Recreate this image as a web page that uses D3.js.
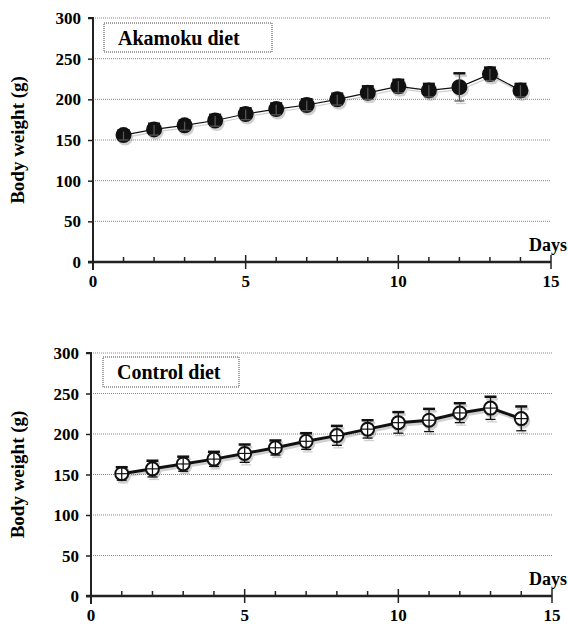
<!DOCTYPE html>
<html><head><meta charset="utf-8">
<script src="https://cdn.jsdelivr.net/npm/d3@7"></script>
<style>body{margin:0;background:#fff;}</style>
</head>
<body><svg id="c" width="568" height="624"></svg>
<script>
const days = [1,2,3,4,5,6,7,8,9,10,11,12,13,14];
const akamokuMean = [156,163,168,174,182,188,193,200,208,216,211,215,231,211];
const akamokuSD   = [6,7,6,7,7,7,7,7,8,8,8,17,8,8];
const controlMean = [151,157,163,169,176,183,191,198,206,214,217,226,232,219];
const controlSD   = [8,10,9,9,11,9,10,12,11,13,14,12,14,15];
const yTicks = [0,50,100,150,200,250,300];
const xMajor = [0,5,10,15];
const xMinor = d3.range(0,16);
const FONT = '"Liberation Serif"';

const svg = d3.select("#c");
const layers = [];

function addText(x,y,str,size,anchor,rotate){
  layers.push({x,y,str,size,anchor,rotate});
}

function drawSeries(parent,cfg,x,y,data,col,fillCol,ebc){
  parent.append("path").datum(data).attr("fill","none").attr("stroke",col).attr("stroke-width",cfg.lw)
    .attr("d",d3.line().x(p=>x(p.d)).y(p=>y(p.m)));
  const pt = parent.selectAll(".pt").data(data).join("g");
  pt.append("circle").attr("cx",p=>x(p.d)).attr("cy",p=>y(p.m)).attr("r",cfg.r)
    .attr("fill",fillCol).attr("stroke",col).attr("stroke-width",2);
  if(cfg.cross){
    pt.append("line").attr("x1",p=>x(p.d)-cfg.r).attr("x2",p=>x(p.d)+cfg.r).attr("y1",p=>y(p.m)).attr("y2",p=>y(p.m)).attr("stroke",col).attr("stroke-width",1.2);
  }
  pt.append("line").attr("x1",p=>x(p.d)).attr("x2",p=>x(p.d)).attr("y1",p=>y(p.m-p.s)).attr("y2",p=>y(p.m+p.s)).attr("stroke",ebc).attr("stroke-width",1.3);
  pt.append("line").attr("x1",p=>x(p.d)-6).attr("x2",p=>x(p.d)+6).attr("y1",p=>y(p.m+p.s)).attr("y2",p=>y(p.m+p.s)).attr("stroke",col).attr("stroke-width",2.5);
  pt.append("line").attr("x1",p=>x(p.d)-5).attr("x2",p=>x(p.d)+5).attr("y1",p=>y(p.m-p.s)).attr("y2",p=>y(p.m-p.s)).attr("stroke",ebc).attr("stroke-width",1.3);
}

function panel(cfg){
  const x = d3.scaleLinear().domain([0,15]).range(cfg.xr);
  const y = d3.scaleLinear().domain([0,300]).range(cfg.yr);
  const g = svg.append("g");
  g.selectAll(".grid").data(yTicks.filter(d=>d>0)).join("line")
    .attr("x1",x(0)).attr("x2",x(15)).attr("y1",d=>y(d)).attr("y2",d=>y(d))
    .attr("stroke","#888").attr("stroke-width",1).attr("stroke-dasharray","1,1");
  // axes (lines/ticks via d3.axis; labels placed from the same scales in a top-level text layer)
  const ya = d3.axisLeft(y).tickValues(yTicks).tickSize(5).tickFormat("");
  const yg = g.append("g").attr("transform",`translate(${x(0)},0)`).call(ya);
  yg.selectAll("text").remove();
  yg.select(".domain").attr("stroke","#222").attr("stroke-width",2).attr("d",`M-5,${y(300)}H0V${y(0)+8}`);
  yg.selectAll(".tick line").attr("stroke","#222").attr("stroke-width",1.5);
  const xa = d3.axisBottom(x).tickValues(xMajor).tickSize(0).tickFormat("");
  const xg = g.append("g").attr("transform",`translate(0,${y(0)})`).call(xa);
  xg.selectAll("text").remove();
  xg.select(".domain").attr("stroke","#222").attr("stroke-width",2.5).attr("d",`M${x(0)-5},0H${x(15)}`);
  g.selectAll(".minor").data(xMinor).join("line")
    .attr("x1",d=>x(d)).attr("x2",d=>x(d))
    .attr("y1",d=>xMajor.includes(d)? y(0)-7 : y(0)-5).attr("y2",d=>xMajor.includes(d)? y(0)+7 : y(0))
    .attr("stroke","#222").attr("stroke-width",1.5);
  yTicks.forEach(t=>addText(x(0)-12, y(t)+6, String(t), 17, "end"));
  xMajor.forEach(t=>addText(x(t), y(0)+25, String(t), 17, "middle"));
  addText(567, y(0)-11, "Days", 18, "end");
  addText(24, (y(0)+y(300))/2, "Body weight (g)", 19, "middle", true);
  g.append("rect").attr("x",cfg.box[0]).attr("y",cfg.box[1]).attr("width",cfg.box[2]).attr("height",cfg.box[3])
    .attr("fill","#fff").attr("stroke","#444").attr("stroke-width",1).attr("stroke-dasharray","1,1");
  addText(cfg.box[0]+14, cfg.box[1]+22, cfg.label, 20, "start");
  const data = days.map((d,i)=>({d,m:cfg.mean[i],s:cfg.sd[i]}));
  const shadow = g.append("g").attr("transform","translate(1.5,2.5)").attr("opacity",0.3);
  drawSeries(shadow,cfg,x,y,data,"#666","#666","#666");
  const dg = g.append("g");
  drawSeries(dg,cfg,x,y,data,"#111",cfg.fill,cfg.ebc);
}
panel({xr:[93,551],yr:[262,18],mean:akamokuMean,sd:akamokuSD,label:"Akamoku diet",box:[104,23,168,29],lw:1.2,r:7,fill:"#111",cross:false,ebc:"#555"});
panel({xr:[91,552],yr:[596,353],mean:controlMean,sd:controlSD,label:"Control diet",box:[103,357,136,30],lw:3,r:6.5,fill:"#fff",cross:true,ebc:"#111"});

// text layer directly under the svg root
layers.forEach(t=>{
  const el = svg.append("text")
    .style("font-family",FONT).style("font-weight","bold").style("font-size",t.size+"px")
    .attr("fill","#000").attr("text-anchor",t.anchor).text(t.str);
  if(t.rotate) el.attr("transform",`translate(${t.x},${t.y}) rotate(-90)`);
  else el.attr("x",t.x).attr("y",t.y);
});
</script></body></html>
